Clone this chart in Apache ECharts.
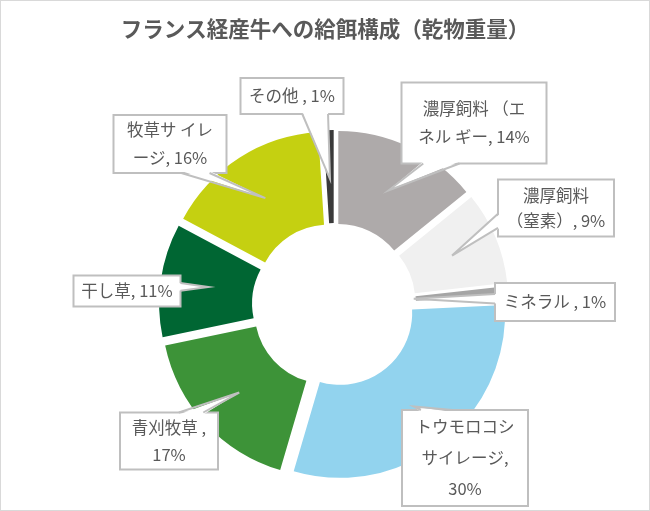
<!DOCTYPE html>
<html>
<head>
<meta charset="utf-8">
<script src="https://cdn.jsdelivr.net/npm/echarts@6/dist/echarts.min.js"></script>
<style>
html, body { margin: 0; padding: 0; background: #fff; }
#chart { width: 648px; height: 509px; border: 1px solid #d9d9d9; }
</style>
</head>
<body>
<div id="chart"></div>
<script>
// 飼料の区分と割合（%）
var names = ['濃厚飼料（エネルギー）', '濃厚飼料（窒素）', 'ミネラル', 'トウモロコシサイレージ',
    '青刈牧草', '干し草', '牧草サイレージ', 'その他'];
var values = [14, 9, 1, 30, 17, 11, 16, 1];
// ラベルの表示テキスト（Excelの折り返しのまま）
var labelTexts = ['濃厚飼料 （エ\nネル ギー, 14%', '濃厚飼料\n（窒素）, 9%', 'ミネラル , 1%',
    'トウモロコシ\nサイレージ,\n30%', '青刈牧草 ,\n17%', '干し草, 11%', '牧草サ イレ\nージ, 16%', 'その他 , 1%'];

var colors = ['#aeaaaa', '#f0f0f0', '#a5a5a5', '#92d3ee', '#3d9338', '#006633', '#c5d011', '#3a3a3a'];

// 吹き出しの位置と大きさ
var boxX = [473, 555, 554, 464, 168, 126, 169, 291];
var boxY = [122, 207, 301, 457, 440, 290, 143, 95];
var boxW = [145, 116, 120, 126, 98, 107, 113, 103];
var boxH = [81, 57, 38, 96, 57, 31, 58, 36];
var boxLH = [28, 25, 20, 31, 27, 20, 28, 20];
var tipR = [127, 128, 80, 129, 129, 127, 127, 126];

var cx = 333, cy = 304, offset = 10;
var myChart = echarts.init(document.getElementById('chart'));
var font = '"Noto Sans CJK JP", "Noto Sans", sans-serif';
var lineColor = '#bfbfbf';

var pieData = [];
for (var i = 0; i < names.length; i++) {
    pieData.push({ name: names[i], value: values[i], selected: true, itemStyle: { color: colors[i] } });
}

function clamp(v, a, b) {
    return Math.max(a, Math.min(b, v));
}

// 吹き出し（枠・しっぽ・文字）を作る
function callouts() {
    var sum = 0, cum = 0, els = [];
    for (var k = 0; k < values.length; k++) sum += values[k];
    for (var i = 0; i < values.length; i++) {
        var mid = (90 - (cum + values[i] / 2) / sum * 360) * Math.PI / 180;
        cum += values[i];
        var tx = cx + tipR[i] * Math.cos(mid);
        var ty = cy - tipR[i] * Math.sin(mid);
        var L = boxX[i] - boxW[i] / 2, T = boxY[i] - boxH[i] / 2;
        var R = L + boxW[i], B = T + boxH[i];
        var nx = (tx - boxX[i]) / (boxW[i] / 2), ny = (ty - boxY[i]) / (boxH[i] / 2);
        var p1, p2, q1, q2, b, c;
        if (Math.abs(nx) > Math.abs(ny)) {
            var ex = nx < 0 ? L : R, ins = nx < 0 ? 2 : -2;
            b = boxH[i] * 0.25;
            c = clamp(ty, T + boxH[i] * 0.15 + b / 2, B - boxH[i] * 0.15 - b / 2);
            p1 = [ex, c - b / 2]; p2 = [ex, c + b / 2];
            q1 = [ex + ins, c - b / 2]; q2 = [ex + ins, c + b / 2];
        } else {
            var ey = ny < 0 ? T : B, ins2 = ny < 0 ? 2 : -2;
            b = boxW[i] * 0.25;
            c = clamp(tx, L + boxW[i] * 0.15 + b / 2, R - boxW[i] * 0.15 - b / 2);
            p1 = [c - b / 2, ey]; p2 = [c + b / 2, ey];
            q1 = [c - b / 2, ey + ins2]; q2 = [c + b / 2, ey + ins2];
        }
        els.push({
            type: 'rect', z: 10, silent: true,
            shape: { x: L, y: T, width: boxW[i], height: boxH[i] },
            style: { fill: '#fff', stroke: lineColor, lineWidth: 2 }
        });
        els.push({
            type: 'polygon', z: 11, silent: true,
            shape: { points: [[tx, ty], q1, q2] },
            style: { fill: '#fff' }
        });
        els.push({
            type: 'polyline', z: 12, silent: true,
            shape: { points: [p1, [tx, ty], p2] },
            style: { stroke: lineColor, lineWidth: 2, fill: null }
        });
        els.push({
            type: 'text', z: 13, silent: true,
            x: boxX[i], y: boxY[i],
            style: {
                text: labelTexts[i], fill: '#595959', fontSize: 16.5, fontFamily: font,
                lineHeight: boxLH[i], align: 'center', verticalAlign: 'middle'
            }
        });
    }
    return els;
}

var option = {
    animation: false,
    title: {
        text: 'フランス経産牛への給餌構成（乾物重量）',
        left: 'center',
        top: 12,
        textStyle: { color: '#595959', fontSize: 21.5, fontWeight: 'bold', fontFamily: font }
    },
    series: [{
        type: 'pie',
        center: [cx, cy],
        radius: [72, 165],
        startAngle: 90,
        selectedMode: 'multiple',
        selectedOffset: offset,
        silent: true,
        label: { show: false },
        labelLine: { show: false },
        emphasis: { scale: false },
        data: pieData
    }],
    graphic: { elements: callouts() }
};
myChart.setOption(option);
</script>
</body>
</html>
